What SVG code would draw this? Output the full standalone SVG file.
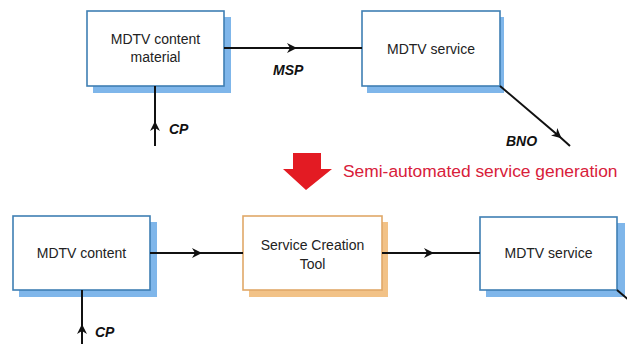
<svg xmlns="http://www.w3.org/2000/svg" width="627" height="344" viewBox="0 0 627 344">
<style>
.bg{fill:#ffffff}
.box{fill:#ffffff;stroke:#3f7fb3;stroke-width:1.6}
.shadow{fill:#7fb6ea}
.obox{fill:#ffffff;stroke:#e0a868;stroke-width:1.6}
.oshadow{fill:#f2c287}
.t{font-family:"Liberation Sans",Arial,sans-serif;font-size:14px;fill:#222222;text-anchor:middle}
.lbl{font-family:"Liberation Sans",Arial,sans-serif;font-size:14px;font-weight:bold;font-style:italic;fill:#111111}
.red{font-family:"Liberation Sans",Arial,sans-serif;font-size:17.4px;fill:#d8203a}
.c{fill:none;stroke:#111111;stroke-width:2}
</style>
<defs>
<marker id="chev" viewBox="0 0 10 10" refX="8" refY="5" markerWidth="5" markerHeight="5" markerUnits="strokeWidth" orient="auto">
<path d="M0,0 L10,5 L0,10 L3,5 z" fill="#111111"/>
</marker>
</defs>
<rect class="bg" width="627" height="344"/>

<g id="n-content-material">
<rect class="shadow" x="93" y="17" width="138" height="76"/>
<rect class="box" x="87" y="11" width="137" height="75"/>
<text class="t" x="155.5" y="44">MDTV content</text>
<text class="t" x="155.5" y="62">material</text>
</g>

<g id="n-service-top">
<rect class="shadow" x="367" y="17" width="137" height="76"/>
<rect class="box" x="362" y="11" width="138" height="75"/>
<text class="t" x="431" y="54">MDTV service</text>
</g>

<g id="n-red-arrow">
<polygon points="293,153 321,153 321,169 332,169 306,190 283,169 293,169" fill="#e31b23"/>
<text class="red" x="343" y="177">Semi-automated service generation</text>
</g>

<g id="n-content">
<rect class="shadow" x="19" y="222" width="138" height="75"/>
<rect class="box" x="13" y="216" width="137" height="74"/>
<text class="t" x="81.5" y="258">MDTV content</text>
</g>

<g id="n-sct">
<rect class="oshadow" x="249" y="222" width="139" height="75"/>
<rect class="obox" x="243" y="216" width="139" height="74"/>
<text class="t" x="312.5" y="250">Service Creation</text>
<text class="t" x="312.5" y="269">Tool</text>
</g>

<g id="n-service-bottom">
<rect class="shadow" x="486" y="223" width="139" height="74"/>
<rect class="box" x="480" y="217" width="137" height="73"/>
<text class="t" x="548.5" y="258">MDTV service</text>
</g>

<g id="connectors">
<polyline class="c" points="224,48 295,48 362,48" marker-mid="url(#chev)"/>
<polyline class="c" points="155,146 155,123 155,86" marker-mid="url(#chev)"/>
<polyline class="c" points="500,86 560,137 570,146" marker-mid="url(#chev)"/>
<polyline class="c" points="150,253 200,253 243,253" marker-mid="url(#chev)"/>
<polyline class="c" points="382,253 432,253 480,253" marker-mid="url(#chev)"/>
<polyline class="c" points="82,344 82,326 82,290" marker-mid="url(#chev)"/>
<line class="c" x1="617" y1="290" x2="630" y2="301"/>
<text class="lbl" x="273" y="75">MSP</text>
<text class="lbl" x="169" y="134">CP</text>
<text class="lbl" x="506" y="146">BNO</text>
<text class="lbl" x="95" y="337">CP</text>
</g>
</svg>
